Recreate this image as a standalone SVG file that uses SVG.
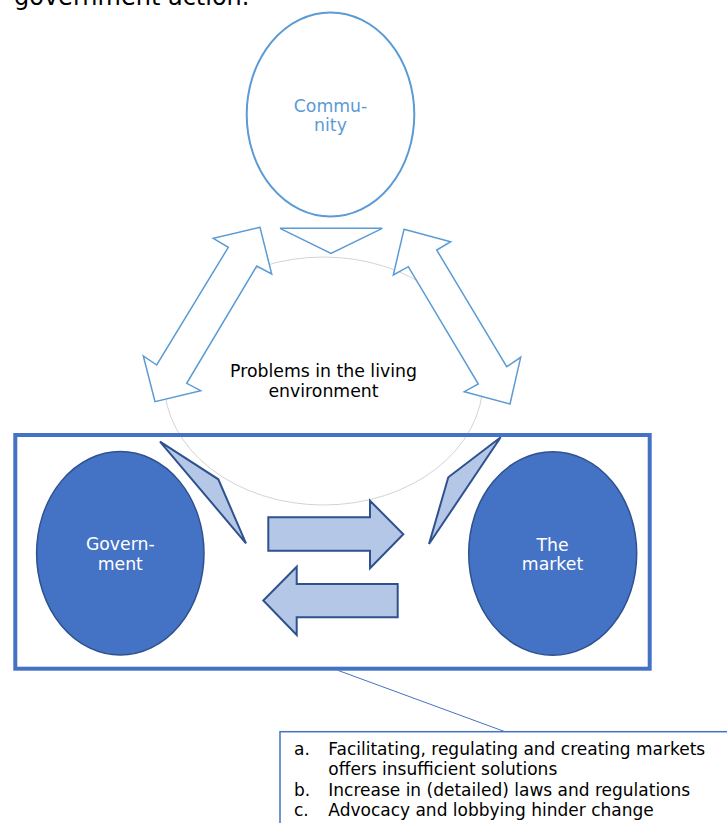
<svg xmlns="http://www.w3.org/2000/svg" width="727" height="823" viewBox="0 0 727 823">
<style>
text { font-family: "DejaVu Sans", Verdana, sans-serif; }
.lbl { font-size: 17.3px; text-anchor: middle; }
.outline { fill: #fff; stroke: #5B9BD5; stroke-width: 1.5; stroke-linejoin: miter; }
.dark { fill: #4472C4; stroke: #2F528F; stroke-width: 1.5; }
.light { fill: #B4C7E7; stroke: #2F528F; stroke-width: 2; stroke-linejoin: miter; }
.item { font-size: 17px; fill: #000; }
</style>
<rect width="727" height="823" fill="#fff"/>
<text x="14" y="5" style="font-size:24px" fill="#000">government action.</text>

<g id="problems">
  <ellipse cx="323.5" cy="381" rx="159.5" ry="124" fill="none" stroke="#c8c8c8" stroke-width="0.8"/>
  <text class="lbl" x="323.5" y="377" fill="#000">Problems in the living</text>
  <text class="lbl" x="323.5" y="397" fill="#000">environment</text>
</g>

<g id="community">
  <ellipse cx="330.5" cy="114.5" rx="83.8" ry="102" fill="#fff" stroke="#5B9BD5" stroke-width="2"/>
  <text class="lbl" x="330.5" y="111.5" fill="#5B9BD5">Commu-</text>
  <text class="lbl" x="330.5" y="131" fill="#5B9BD5">nity</text>
</g>

<g id="connectors">
  <polygon class="outline" points="260,227.3 213.3,238.3 228.3,247.3 156.7,365 143.3,356 155,401.7 200.7,390.7 186.7,383.3 256.7,266 271.7,274"/>
  <polygon class="outline" points="404,229.3 450.7,241.7 436.7,250 506.7,366.7 520.7,357.3 510,404 464.3,391.7 478.3,384 408.3,266.7 393.3,275"/>
  <polygon class="outline" points="280,228.3 382.3,228.3 331,253.3" stroke-width="1.8"/>
  <polygon class="light" points="268.3,517.3 370,517.3 370,500.7 403.3,534.3 370,568.3 370,550.7 268.3,550.7"/>
  <polygon class="light" points="397.7,584 296.7,584 296.7,566.7 263.3,600.5 296.7,635 296.7,617.3 397.7,617.3"/>
  <polygon class="light" points="160,441.7 218.3,479.3 246,543.3"/>
  <polygon class="light" points="500.7,437.3 448.3,477.3 429,544"/>
  <line x1="338.3" y1="670.5" x2="505" y2="731.7" stroke="#4472C4" stroke-width="1"/>
</g>

<g id="frame">
  <rect x="15.3" y="435" width="634.4" height="233.7" fill="none" stroke="#4472C4" stroke-width="4"/>
</g>

<g id="government">
  <ellipse class="dark" cx="120.3" cy="553.3" rx="83.7" ry="101.7"/>
  <text class="lbl" x="120.3" y="550" fill="#fff">Govern-</text>
  <text class="lbl" x="120.3" y="570" fill="#fff">ment</text>
</g>

<g id="market">
  <ellipse class="dark" cx="552.7" cy="553.5" rx="84" ry="101.8"/>
  <text class="lbl" x="552.5" y="550.5" fill="#fff">The</text>
  <text class="lbl" x="552.5" y="570" fill="#fff">market</text>
</g>

<g id="notes">
  <rect x="280" y="731.7" width="460" height="110" fill="#fff" stroke="#4472C4" stroke-width="1.5"/>
  <text class="item" x="294" y="755">a.</text>
  <text class="item" x="328.3" y="755">Facilitating, regulating and creating markets</text>
  <text class="item" x="328.3" y="775">offers insufficient solutions</text>
  <text class="item" x="294" y="795.5">b.</text>
  <text class="item" x="328.3" y="795.5">Increase in (detailed) laws and regulations</text>
  <text class="item" x="294" y="816">c.</text>
  <text class="item" x="328.3" y="816">Advocacy and lobbying hinder change</text>
</g>
</svg>
